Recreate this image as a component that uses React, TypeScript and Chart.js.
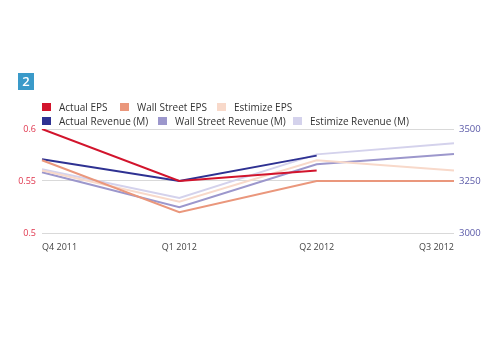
import React, { useEffect, useRef } from "react";
import { Chart, registerables } from "chart.js";

Chart.register(...registerables);

const categories = ["Q4 2011", "Q1 2012", "Q2 2012", "Q3 2012"];
const actualEPS = [0.6, 0.55, 0.56, null];
const wallStreetEPS = [0.57, 0.52, 0.55, 0.55];
const estimizeEPS = [0.56, 0.53, 0.57, 0.56];
const actualRevenue = [3355, 3250, 3372, null];
const wallStreetRevenue = [3292, 3124, 3330, 3380];
const estimizeRevenue = [3306, 3168, 3378, 3431];
const leftTickValues = [0.5, 0.55, 0.6];
const leftTickLabels = ["0.5", "0.55", "0.6"];
const rightTickValues = [3000, 3250, 3500];
const rightTickLabels = ["3000", "3250", "3500"];

const seriesNames = [
  "Actual EPS",
  "Wall Street EPS",
  "Estimize EPS",
  "Actual Revenue (M)",
  "Wall Street Revenue (M)",
  "Estimize Revenue (M)",
];
const seriesColors = ["#d2142c", "#ea977c", "#f8d9ca", "#2e3192", "#9c97cc", "#d4d2ec"];
const seriesData = [actualEPS, wallStreetEPS, estimizeEPS, actualRevenue, wallStreetRevenue, estimizeRevenue];
const seriesAxis = ["yL", "yL", "yL", "yR", "yR", "yR"];

// legend layout (style only)
const legendLeft = [42, 120, 217, 42, 158, 293];
const legendTop = [102, 102, 102, 116, 116, 116];

const FONT = "'Open Sans', sans-serif";

export default function App() {
  const ref = useRef<HTMLCanvasElement | null>(null);
  useEffect(() => {
    if (!ref.current) return;
    const chart = new Chart(ref.current, {
      type: "line",
      data: {
        labels: categories,
        datasets: seriesNames.map((n, i) => ({
          label: n,
          data: seriesData[i],
          borderColor: seriesColors[i],
          backgroundColor: seriesColors[i],
          borderWidth: 2,
          pointRadius: 0,
          tension: 0,
          yAxisID: seriesAxis[i],
        })),
      },
      options: {
        animation: false,
        responsive: false,
        layout: { padding: { top: 129, left: 0, right: 0, bottom: 0 } },
        plugins: { legend: { display: false }, tooltip: { enabled: false } },
        scales: {
          x: {
            type: "category",
            offset: false,
            grid: { display: false, drawTicks: false },
            border: { display: false },
            ticks: {
              align: "inner",
              padding: 9,
              maxRotation: 0,
              color: "#444",
              font: { family: FONT, size: 9 },
            },
            afterFit: (s: any) => {
              s.height = 117;
            },
          },
          yL: {
            position: "left",
            min: 0.5,
            max: 0.6,
            grid: { color: "#d9d9d9", lineWidth: 1, drawTicks: false },
            border: { display: false },
            afterBuildTicks: (s: any) => {
              s.ticks = leftTickValues.map((v) => ({ value: v }));
            },
            ticks: {
              padding: 6,
              color: "#e0354d",
              font: { family: FONT, size: 9 },
              callback: (_v: any, i: number) => leftTickLabels[i],
            },
            afterFit: (s: any) => {
              s.width = 42;
            },
          },
          yR: {
            position: "right",
            min: 3000,
            max: 3500,
            grid: { drawOnChartArea: false, drawTicks: false },
            border: { display: false },
            afterBuildTicks: (s: any) => {
              s.ticks = rightTickValues.map((v) => ({ value: v }));
            },
            ticks: {
              padding: 5,
              color: "#5b5aa8",
              font: { family: FONT, size: 9.5 },
              callback: (_v: any, i: number) => rightTickLabels[i],
            },
            afterFit: (s: any) => {
              s.width = 46;
            },
          },
        },
      },
    });
    return () => chart.destroy();
  }, []);

  return (
    <div style={{ position: "fixed", left: 0, top: 0, width: 500, height: 350, background: "#fff" }}>
      <canvas ref={ref} width={500} height={350} style={{ position: "absolute", left: 0, top: 0 }} />
      <div
        style={{
          position: "absolute",
          left: 18,
          top: 73,
          width: 16,
          height: 17,
          background: "#3a9ac9",
          color: "#fff",
          fontFamily: FONT,
          fontWeight: 600,
          fontSize: 13,
          lineHeight: "17px",
          textAlign: "center",
        }}
      >
        2
      </div>
      {seriesNames.map((n, i) => (
        <div
          key={i}
          style={{
            position: "absolute",
            left: legendLeft[i],
            top: legendTop[i],
            height: 9,
            display: "flex",
            alignItems: "center",
            fontFamily: FONT,
            fontSize: 10,
            color: "#333",
            whiteSpace: "nowrap",
          }}
        >
          <span
            style={{
              display: "inline-block",
              width: 9,
              height: 8,
              background: seriesColors[i],
              marginRight: 8,
            }}
          />
          <span>{n}</span>
        </div>
      ))}
    </div>
  );
}
